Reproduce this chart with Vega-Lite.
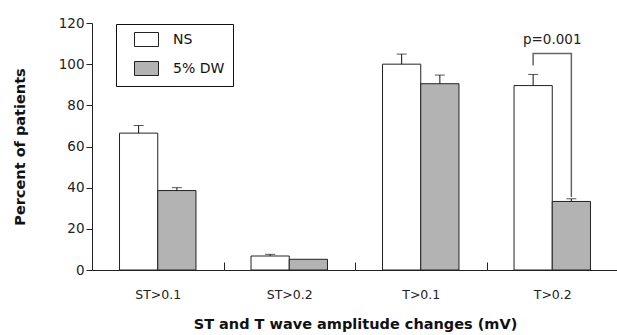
{
  "$schema": "https://vega.github.io/schema/vega-lite/v6.json",
  "width": 526,
  "height": 247,
  "autosize": "none",
  "padding": {"left": 92, "top": 23, "right": 0, "bottom": 65},
  "background": "white",
  "config": {
    "view": {"stroke": null},
    "font": "DejaVu Sans",
    "tick": {"thickness": 1}
  },
  "datasets": {
    "bars": [
      {"category": "ST>0.1", "group": "NS", "value": 66.5, "err": 70.2},
      {"category": "ST>0.1", "group": "5% DW", "value": 38.6, "err": 40.0},
      {"category": "ST>0.2", "group": "NS", "value": 6.8, "err": 7.6},
      {"category": "ST>0.2", "group": "5% DW", "value": 5.2, "err": null},
      {"category": "T>0.1", "group": "NS", "value": 100.0, "err": 104.9},
      {"category": "T>0.1", "group": "5% DW", "value": 90.5, "err": 94.7},
      {"category": "T>0.2", "group": "NS", "value": 89.6, "err": 95.0},
      {"category": "T>0.2", "group": "5% DW", "value": 33.3, "err": 34.6}
    ],
    "bracket": [
      {"category": "T>0.2", "group": "NS", "y": 99.4, "order": 1},
      {"category": "T>0.2", "group": "NS", "y": 105.2, "order": 2},
      {"category": "T>0.2", "group": "5% DW", "y": 105.2, "order": 3},
      {"category": "T>0.2", "group": "5% DW", "y": 35.5, "order": 4}
    ],
    "label": [
      {"category": "T>0.2", "y": 111.5, "text": "p=0.001"}
    ]
  },
  "layer": [
    {
      "data": {"name": "bars"},
      "mark": {"type": "bar", "stroke": "#222", "strokeWidth": 1},
      "encoding": {
        "x": {
          "field": "category", "type": "nominal", "sort": null,
          "scale": {"paddingInner": 0, "paddingOuter": 0},
          "axis": {
            "title": "ST and T wave amplitude changes (mV)",
            "titleFont": "DejaVu Sans", "titleFontWeight": "bold", "titleFontSize": 14.5,
            "titleColor": "#111", "titleY": 58, "titleBaseline": "alphabetic",
            "labelAngle": 0, "labelFontSize": 12.5, "labelColor": "#222",
            "labelPadding": 32, "labelBaseline": "middle",
            "tickBand": "extent", "tickSize": -8, "tickColor": "#222",
            "domainColor": "#222"
          }
        },
        "xOffset": {
          "field": "group", "type": "nominal", "sort": ["NS", "5% DW"],
          "scale": {"paddingInner": 0, "paddingOuter": 0.72}
        },
        "y": {
          "field": "value", "type": "quantitative",
          "scale": {"domain": [0, 120], "nice": false},
          "axis": {
            "title": "Percent of patients",
            "titleFont": "DejaVu Sans", "titleFontWeight": "bold", "titleFontSize": 14.5,
            "titleColor": "#111", "titleX": -65, "titleY": 123.5, "titleAlign": "center", "titleBaseline": "bottom", "titleAngle": -90,
            "values": [0, 20, 40, 60, 80, 100, 120],
            "grid": false, "tickSize": 6, "tickColor": "#222", "domainColor": "#222",
            "labelFontSize": 13.5, "labelColor": "#222", "labelPadding": 2
          }
        },
        "fill": {
          "field": "group", "type": "nominal",
          "scale": {"domain": ["NS", "5% DW"], "range": ["white", "#b3b3b3"]},
          "legend": {
            "title": null, "orient": "none", "legendX": 24, "legendY": 1,
            "strokeColor": "#111", "padding": 8, "fillColor": "white",
            "symbolType": "M-1.714,-1 h3.43 v2 h-3.43 z", "symbolSize": 196,
            "symbolStrokeColor": "#222", "symbolStrokeWidth": 1, "symbolOffset": 15,
            "labelFontSize": 14, "labelColor": "#111", "labelOffset": 19,
            "rowPadding": 10
          }
        }
      }
    },
    {
      "data": {"name": "bars"},
      "transform": [{"filter": "datum.err != null"}],
      "mark": {"type": "rule", "color": "#111", "strokeWidth": 1},
      "encoding": {
        "x": {"field": "category", "type": "nominal", "sort": null},
        "xOffset": {"field": "group", "type": "nominal", "sort": ["NS", "5% DW"]},
        "y": {"field": "value", "type": "quantitative"},
        "y2": {"field": "err"}
      }
    },
    {
      "data": {"name": "bars"},
      "transform": [{"filter": "datum.err != null"}],
      "mark": {"type": "tick", "color": "#111", "size": 10, "thickness": 1},
      "encoding": {
        "x": {"field": "category", "type": "nominal", "sort": null},
        "xOffset": {"field": "group", "type": "nominal", "sort": ["NS", "5% DW"]},
        "y": {"field": "err", "type": "quantitative"}
      }
    },
    {
      "data": {"name": "bracket"},
      "mark": {"type": "line", "color": "#666", "strokeWidth": 1.5, "interpolate": "linear"},
      "encoding": {
        "x": {"field": "category", "type": "nominal", "sort": null},
        "xOffset": {"field": "group", "type": "nominal", "sort": ["NS", "5% DW"]},
        "y": {"field": "y", "type": "quantitative"},
        "order": {"field": "order", "type": "quantitative"}
      }
    },
    {
      "data": {"name": "label"},
      "mark": {"type": "text", "fontSize": 13.5, "color": "#222", "baseline": "middle", "align": "center"},
      "encoding": {
        "x": {"field": "category", "type": "nominal", "sort": null},
        "y": {"field": "y", "type": "quantitative"},
        "text": {"field": "text"}
      }
    }
  ]
}
